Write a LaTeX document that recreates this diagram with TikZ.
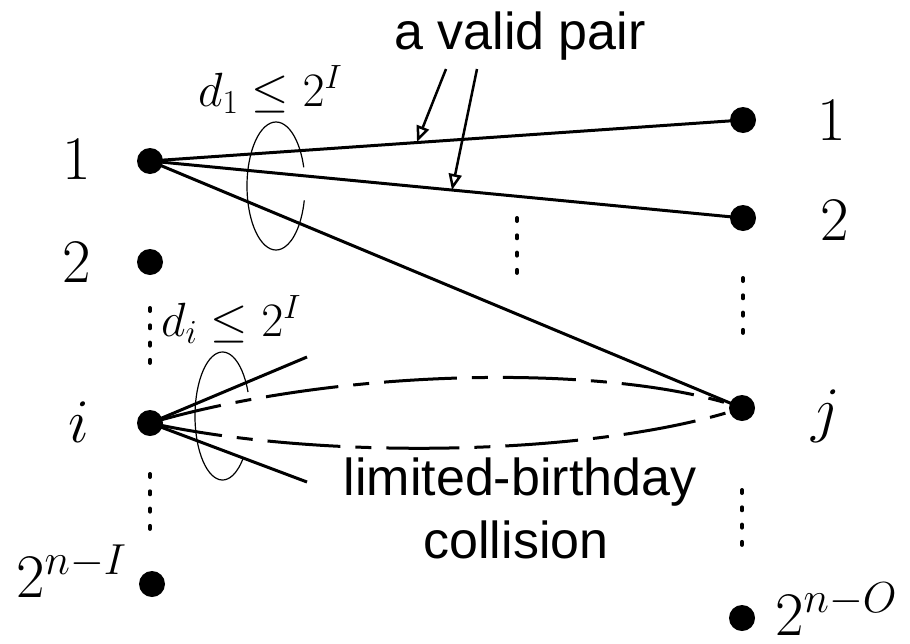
\RequirePackage{fix-cm}
\documentclass[tikz,border=0pt]{standalone}
\usepackage{fontspec}
\newfontfamily\lsans{Liberation Sans}
\usetikzlibrary{arrows.meta}
\begin{document}
\begin{tikzpicture}[x=1pt,y=1pt,
  vtx/.style={circle,fill=black,inner sep=0pt,minimum size=26pt},
  edge/.style={line width=3pt},
  big/.style={inner sep=0pt,font=\fontsize{62}{62}\selectfont},
  mid/.style={inner sep=0pt,font=\fontsize{48}{48}\selectfont},
  sans/.style={inner sep=0pt,font=\lsans\fontsize{52}{60}\selectfont},
  vdots/.style={line width=4pt,line cap=round,dash pattern=on 3pt off 14.3pt},
  loopline/.style={line width=1.2pt},
  dashdot/.style={line width=3pt,dash pattern=on 73pt off 15pt on 16pt off 15pt},
  ptr/.style={line width=2.5pt,-{Triangle[open,length=16pt,width=13pt]}}]
\useasboundingbox (0,0) rectangle (910,-643);

% vertices
\node[vtx] (L1) at (150,-161) {};
\node[vtx] (L2) at (150,-262) {};
\node[vtx] (Li) at (150,-423) {};
\node[vtx] (Ln) at (152,-584) {};
\node[vtx] (R1) at (743,-120) {};
\node[vtx] (R2) at (743,-218) {};
\node[vtx] (Rj) at (742,-408) {};
\node[vtx] (Rn) at (742,-618) {};

% vertex labels
\node[big,anchor=base] (tL1) at (77,-179) {$1$};
\node[big,anchor=base] (tL2) at (77,-282) {$2$};
\node[big,anchor=base] (tLi) at (79,-442) {$i$};
\node[big,anchor=base west] (tLn) at (16,-597) {$2^{n-I}$};
\node[big,anchor=base] (tR1) at (832,-140) {$1$};
\node[big,anchor=base] (tR2) at (835,-240) {$2$};
\node[big,anchor=base] (tRj) at (826,-430) {$j$};
\node[big,anchor=base west] (tRn) at (775,-635) {$2^{n-O}$};

% degree labels
\node[mid,anchor=base west] (d1) at (198,-106) {$d_1\leq 2^I$};
\node[mid,anchor=base west] (di) at (161,-336) {$d_i\leq 2^I$};

% edges
\draw[edge] (L1.center) -- (R1.center);
\draw[edge] (L1.center) -- (R2.center);
\draw[edge] (L1.center) -- (Rj.center);
\coordinate (fa) at (307,-357);
\coordinate (fb) at (307,-482);
\draw[edge] (Li.center) -- (fa);
\draw[edge] (Li.center) -- (fb);
\draw[dashdot] (Li.center) .. controls (350,-365) and (620,-365) .. (Rj.center);
\draw[dashdot] (Li.center) .. controls (330,-462) and (600,-455) .. (Rj.center);

% degree loops
\coordinate (E1) at (276,-186);
\coordinate (E2) at (222.5,-416);
\draw[loopline] ([shift={(17:29pt and 64pt)}]E1) arc[start angle=17,end angle=347,x radius=29pt,y radius=64pt];
\draw[loopline] ([shift={(22:27.5pt and 64pt)}]E2) arc[start angle=22,end angle=320,x radius=27.5pt,y radius=64pt];

% vertical dots
\draw[vdots] (150,-308) -- (150,-366);
\draw[vdots] (150,-474) -- (150,-532);
\draw[vdots] (517,-218) -- (517,-276);
\draw[vdots] (743,-278) -- (743,-336);
\draw[vdots] (742,-490) -- (742,-548);

% annotations
\node[sans,anchor=base] (vp) at (520,-49) {a valid pair};
\coordinate (s1) at (446,-69);
\coordinate (s2) at (477,-69);
\coordinate (a1) at (417,-142);
\coordinate (a2) at (452,-190);
\draw[ptr] (s1) -- (a1);
\draw[ptr] (s2) -- (a2);
\node[sans,anchor=base] (lb1) at (520,-495) {limited-birthday};
\node[sans,anchor=base] (lb2) at (516,-558) {collision};
\end{tikzpicture}
\end{document}
